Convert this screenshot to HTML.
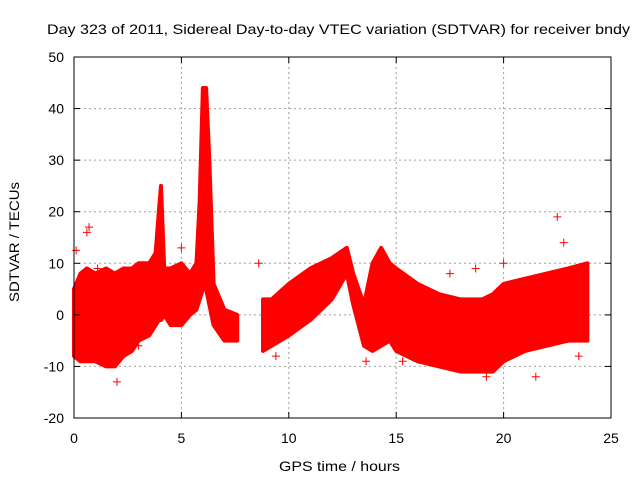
<!DOCTYPE html>
<html><head><meta charset="utf-8"><style>
html,body{margin:0;padding:0;background:#fff}
svg text{font-family:"Liberation Sans",sans-serif;font-size:14px;fill:#000}
</style></head><body>
<svg width="640" height="480">
<rect width="640" height="480" fill="#fff"/>
<g id="grid"></g>
<g id="data"></g>
<rect x="74" y="57" width="537" height="361" fill="none" stroke="#000" stroke-width="1"/>
<g id="ticks"></g>
<text x="47" y="34" textLength="583" lengthAdjust="spacingAndGlyphs">Day 323 of 2011, Sidereal Day-to-day VTEC variation (SDTVAR) for receiver bndy</text>
<text x="279" y="471" textLength="121" lengthAdjust="spacingAndGlyphs">GPS time / hours</text>
<text transform="translate(19,302) rotate(-90)" textLength="120" lengthAdjust="spacingAndGlyphs">SDTVAR / TECUs</text>
</svg>
<script>
const xTicks=[0,5,10,15,20,25];
const yTicks=[-20,-10,0,10,20,30,40,50];
const ts=[0,0.3,0.6,1,1.5,1.9,2.3,2.7,3,3.5,3.8,3.95,4.05,4.2,4.5,5,5.4,5.7,5.85,6.0,6.15,6.3,6.5,7,7.6,8.8,9.2,10,11,12,12.7,13,13.5,13.9,14.3,14.7,15,16,17,18,19,19.5,20,21,22,23,23.9];
const hi=[5,8,9,8,9,8,9,9,10,10,12,20,25,9,9,10,8,10,22,44,44,30,6,1,0,3,3,6,9,11,13,8,2,10,13,10,9,6,4,3,3,4,6,7,8,9,10];
const lo=[-8,-9,-9,-9,-10,-10,-8,-7,-5,-4,-2,-1,-1,0,-2,-2,0,1,3,5,5,2,-2,-5,-5,-7,-6,-4,-1,3,8,2,-6,-7,-6,-5,-7,-9,-10,-11,-11,-11,-9,-7,-6,-5,-5];
const outX=[0.1,0.6,0.7,2,1.1,5,8.6,9.4,13.6,17.5,18.7,19.2,20,21.5,22.5,22.8,23.5,6.3,6.3,3,15.3];
const outY=[12.5,16,17,-13,9,13,10,-8,-9,8,9,-12,10,-12,19,14,-8,6,7,-6,-9];
const X=v=>74+v*537/25, Y=v=>57+(50-v)*361/70;
const NS='http://www.w3.org/2000/svg';
const g=document.getElementById('grid'),tk=document.getElementById('ticks'),d=document.getElementById('data');
function mk(p,tag,a){const e=document.createElementNS(NS,tag);for(const k in a)e.setAttribute(k,a[k]);p.appendChild(e);return e;}
xTicks.forEach(v=>{
 if(v>0&&v<25){const l=mk(g,'line',{x1:X(v),x2:X(v),y1:57,y2:418,stroke:'#a0a0a0','stroke-dasharray':'2,3'});
 
 }
 mk(tk,'line',{x1:X(v),x2:X(v),y1:418,y2:412,stroke:'#000'});
 mk(tk,'line',{x1:X(v),x2:X(v),y1:57,y2:63,stroke:'#000'});
 const t=mk(tk,'text',{x:X(v),y:443,'text-anchor':'middle'});t.textContent=v;
 
 
});
yTicks.forEach(v=>{
 if(v>-20&&v<50){const l=mk(g,'line',{x1:74,x2:611,y1:Y(v),y2:Y(v),stroke:'#a0a0a0','stroke-dasharray':'2,3'});
 
 }
 mk(tk,'line',{x1:74,x2:80,y1:Y(v),y2:Y(v),stroke:'#000'});
 mk(tk,'line',{x1:605,x2:611,y1:Y(v),y2:Y(v),stroke:'#000'});
 const t=mk(tk,'text',{x:64,y:Y(v)+5,'text-anchor':'end'});t.textContent=v;
 
 
});
let segs=[],cur=[0];
for(let i=1;i<ts.length;i++){if(ts[i]-ts[i-1]>1){segs.push(cur);cur=[];}cur.push(i);}
segs.push(cur);
segs.forEach(s=>{
 let pts=s.map(i=>X(ts[i])+','+Y(hi[i]));
 pts=pts.concat(s.slice().reverse().map(i=>X(ts[i])+','+Y(lo[i])));
 const p=mk(d,'polygon',{points:pts.join(' '),fill:'#ff0000',stroke:'#ff0000','stroke-width':4,'stroke-linejoin':'round'});
 
 
});
outX.forEach((x,i)=>{
 const cx=X(x),cy=Y(outY[i]);
 const p=mk(d,'path',{d:`M${cx-4},${cy}h8M${cx},${cy-4}v8`,stroke:'#ff0000','stroke-width':1});
 
 
});
</script>
</body></html>
